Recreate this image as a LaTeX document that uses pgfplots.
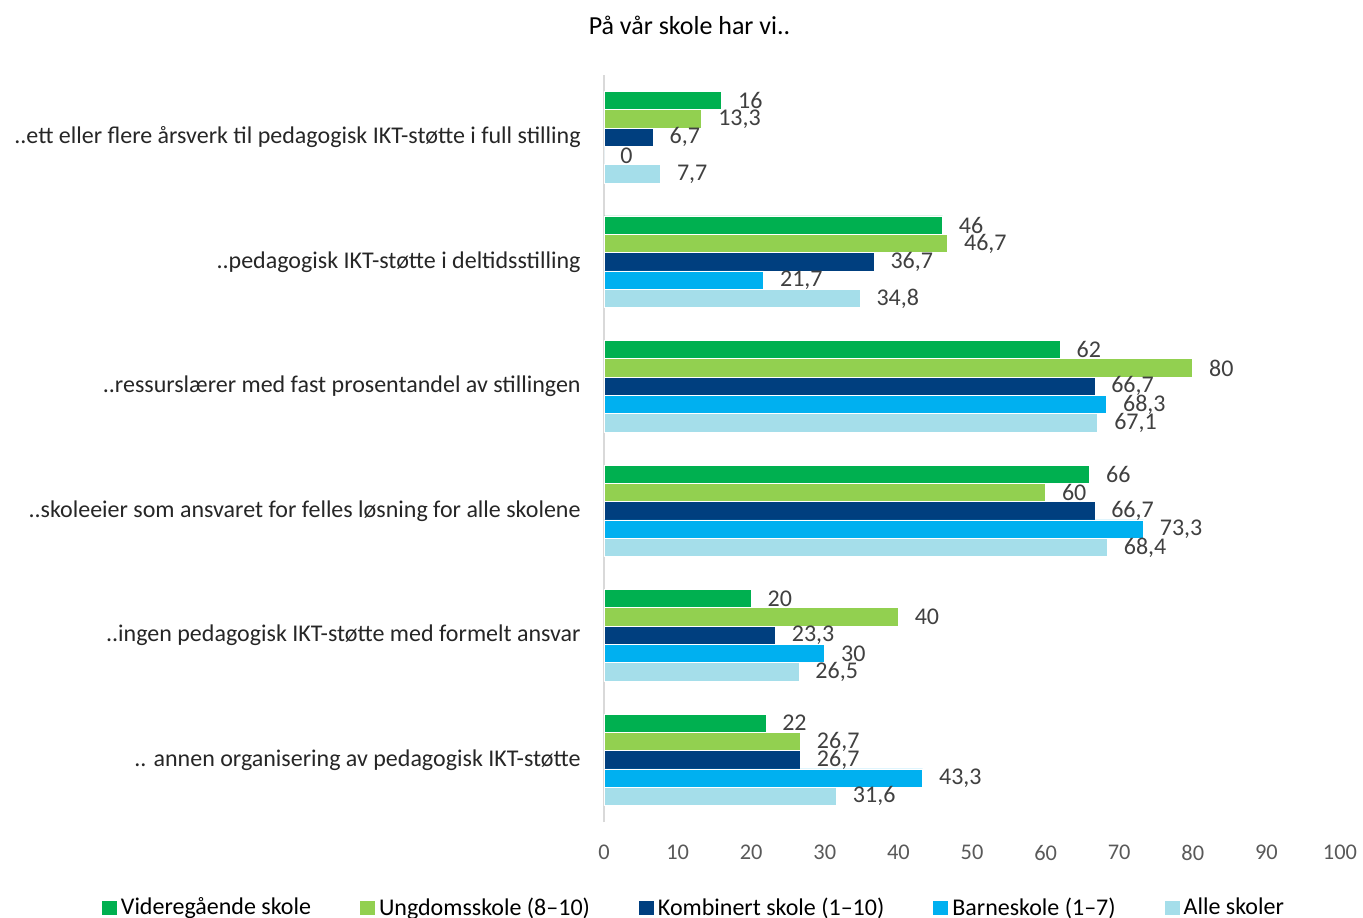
\documentclass[border=0pt]{standalone}
\usepackage{fontspec}
\setmainfont{Carlito}
\usepackage{pgfplots}
\usepackage{pgfplotstable}
\pgfplotsset{compat=1.18}

\definecolor{cVgs}{HTML}{00B050}
\definecolor{cUng}{HTML}{92D050}
\definecolor{cKomb}{HTML}{003F7F}
\definecolor{cBarn}{HTML}{00B0F0}
\definecolor{cAlle}{HTML}{A5DEEA}
\definecolor{tickgray}{HTML}{595959}
\definecolor{valgray}{HTML}{404040}
\definecolor{catgray}{HTML}{262626}
\definecolor{axgray}{HTML}{D9D9D9}

\newcommand{\chartfont}{\fontsize{12pt}{14pt}\selectfont}
\newcommand{\tickfont}{\fontsize{11.2pt}{13pt}\selectfont}
\newcommand{\titlefont}{\fontsize{13pt}{15pt}\selectfont}

% category index: 5 = top row, 0 = bottom row
\pgfplotstableread{
x y
16 5
46 4
62 3
66 2
20 1
22 0
}\vgs
\pgfplotstableread{
x y
13.3 5
46.7 4
80 3
60 2
40 1
26.7 0
}\ung
\pgfplotstableread{
x y
6.7 5
36.7 4
66.7 3
66.7 2
23.3 1
26.7 0
}\komb
\pgfplotstableread{
x y
0 5
21.7 4
68.3 3
73.3 2
30 1
43.3 0
}\barn
\pgfplotstableread{
x y
7.7 5
34.8 4
67.1 3
68.4 2
26.5 1
31.6 0
}\alle

\begin{document}
\begin{tikzpicture}
\useasboundingbox (0,0) rectangle (681.5pt,458.5pt);
\node[font=\titlefont, text=black] at (344.75pt,446pt) {På vår skole har vi..};
\begin{axis}[
  at={(302pt,47.5pt)}, anchor=south west,
  scale only axis, width=368pt, height=373.5pt,
  xbar, bar width=0.147,
  xmin=0, xmax=100, ymin=-0.5, ymax=5.5,
  xtick={0,10,...,100},
  ytick={0,1,2,3,4,5},
  yticklabels={.. annen organisering av pedagogisk IKT-støtte,
    ..ingen pedagogisk IKT-støtte med formelt ansvar,
    ..skoleeier som ansvaret for felles løsning for alle skolene,
    ..ressurslærer med fast prosentandel av stillingen,
    ..pedagogisk IKT-støtte i deltidsstilling,
    ..ett eller flere årsverk til pedagogisk IKT-støtte i full stilling},
  major tick length=0pt,
  axis lines*=left,
  x axis line style={draw=none},
  y axis line style={draw=axgray, line width=1pt, -},
  xticklabel style={font=\tickfont, text=tickgray, inner sep=0pt, anchor=north, yshift=-11.5pt},
  yticklabel style={font=\chartfont, text=catgray, inner sep=0pt, anchor=east, xshift=-11.5pt},
  /pgf/number format/.cd, use comma, fixed, precision=1, assume math mode=true,
  /pgfplots/.cd,
  point meta=x,
  nodes near coords,
  nodes near coords style={font=\chartfont, text=valgray, anchor=west, inner sep=0pt, xshift=8pt},
  legend columns=5,
  legend style={draw=none, fill=none, font=\chartfont, text=black,
    at={(0.1235,-0.115)}, anchor=center, inner sep=0pt,
    /tikz/every even column/.append style={column sep=22.5pt}},
  legend image code/.code={\fill[#1, draw=none] (0pt,-3.5pt) rectangle (7.5pt,3.5pt);},
  every axis plot/.append style={draw=white, line width=0.4pt},
]
\addplot[fill=cVgs, bar shift=0.294] table[x=x,y=y]{\vgs};
\addplot[fill=cUng, bar shift=0.147] table[x=x,y=y]{\ung};
\addplot[fill=cKomb, bar shift=0] table[x=x,y=y]{\komb};
\addplot[fill=cBarn, bar shift=-0.147] table[x=x,y=y]{\barn};
\addplot[fill=cAlle, bar shift=-0.294] table[x=x,y=y]{\alle};
\legend{Videregående skole, Ungdomsskole (8–10), Kombinert skole (1–10), Barneskole (1–7), Alle skoler}
\end{axis}
\end{tikzpicture}
\end{document}
